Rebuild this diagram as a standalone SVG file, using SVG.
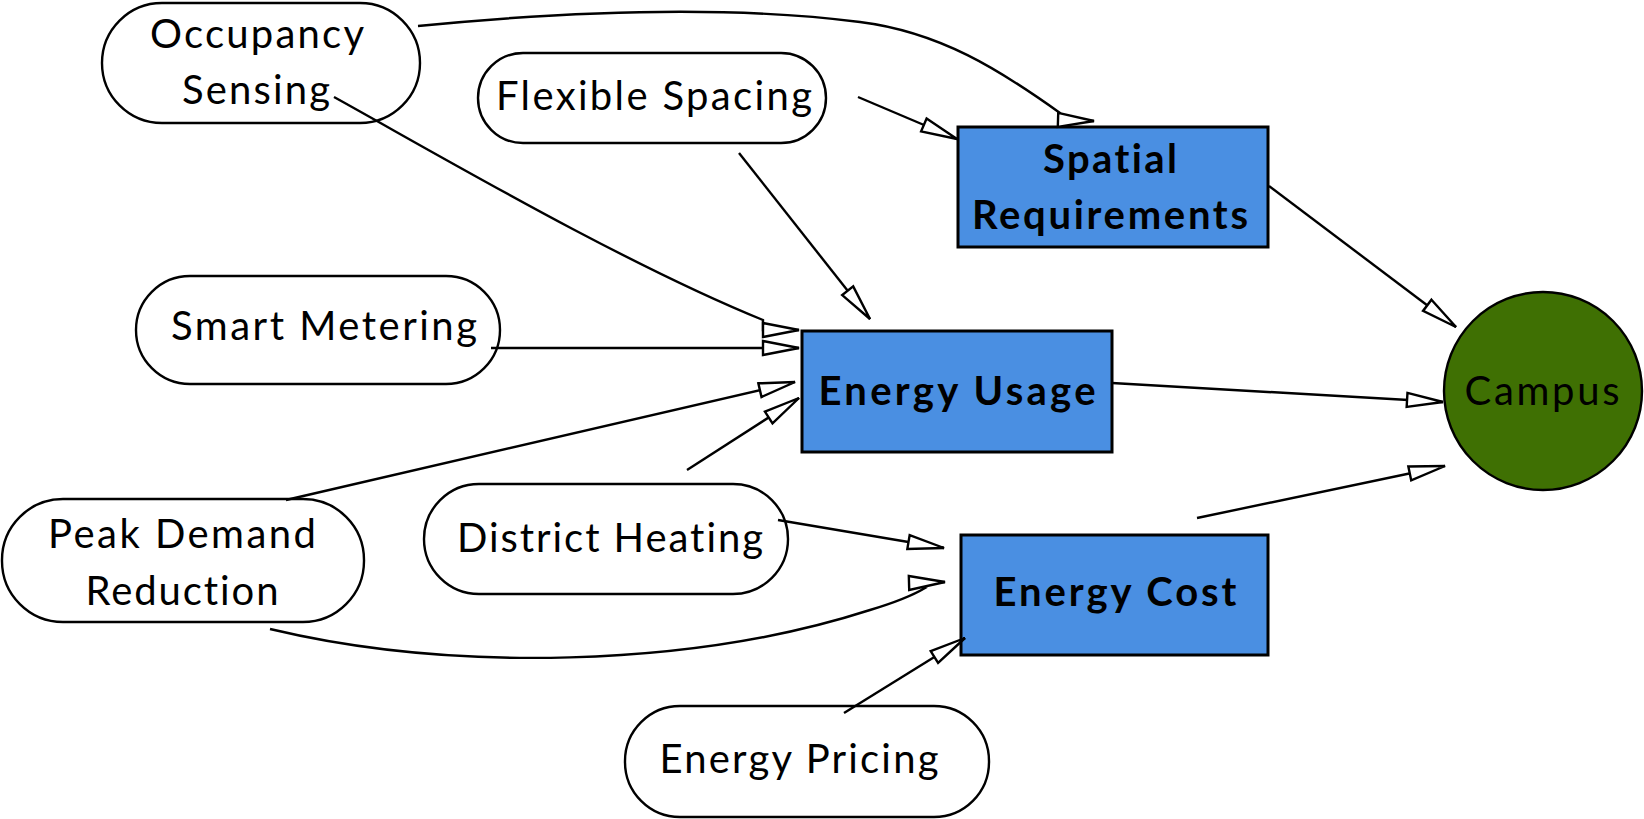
<svg xmlns="http://www.w3.org/2000/svg" width="1644" height="819" viewBox="0 0 1644 819">
<style>
.pill{fill:#fff;stroke:#000;stroke-width:2.4}
.box{fill:#4a8fe2;stroke:#000;stroke-width:3}
.circ{fill:#3f7003;stroke:#000;stroke-width:2.4}
.t{font-family:Lato,"Liberation Sans",sans-serif;font-size:40px;fill:#000;text-anchor:middle;font-variant-ligatures:none;font-feature-settings:"liga" 0}
.b{font-weight:bold}
.e{fill:none;stroke:#000;stroke-width:2.4;marker-end:url(#ah)}
</style>
<defs>
<marker id="ah" markerUnits="userSpaceOnUse" markerWidth="44" markerHeight="24" refX="38" refY="10" orient="auto" overflow="visible">
<path d="M2,3 L38,10 L2,17 z" fill="#fff" stroke="#000" stroke-width="2.4"/>
</marker>
</defs>
<rect width="1644" height="819" fill="#fff"/>
<g id="occupancy-sensing">
<rect class="pill" x="102" y="3" width="318" height="120" rx="60"/>
<text class="t" x="257" y="48" textLength="214" lengthAdjust="spacing">Occupancy</text>
<text class="t" x="256" y="104" textLength="148" lengthAdjust="spacing">Sensing</text>
</g>
<g id="flexible-spacing">
<rect class="pill" x="478" y="53" width="348" height="90" rx="45"/>
<text class="t" x="654" y="110" textLength="316" lengthAdjust="spacing">Flexible Spacing</text>
</g>
<g id="smart-metering">
<rect class="pill" x="136" y="276" width="364" height="108" rx="54"/>
<text class="t" x="324" y="340" textLength="306" lengthAdjust="spacing">Smart Metering</text>
</g>
<g id="peak-demand-reduction">
<rect class="pill" x="2" y="499" width="362" height="123" rx="61"/>
<text class="t" x="182" y="548" textLength="268" lengthAdjust="spacing">Peak Demand</text>
<text class="t" x="182" y="605" textLength="193" lengthAdjust="spacing">Reduction</text>
</g>
<g id="district-heating">
<rect class="pill" x="424" y="484" width="364" height="110" rx="55"/>
<text class="t" x="610" y="552" textLength="306" lengthAdjust="spacing">District Heating</text>
</g>
<g id="energy-pricing">
<rect class="pill" x="625" y="706" width="364" height="111" rx="55"/>
<text class="t" x="799" y="773" textLength="279" lengthAdjust="spacing">Energy Pricing</text>
</g>
<g id="spatial-requirements">
<rect class="box" x="958" y="127" width="310" height="120"/>
<text class="t b" x="1110" y="173" textLength="134" lengthAdjust="spacing">Spatial</text>
<text class="t b" x="1110" y="229" textLength="276" lengthAdjust="spacing">Requirements</text>
</g>
<g id="energy-usage">
<rect class="box" x="802" y="331" width="310" height="121"/>
<text class="t b" x="957" y="405" textLength="277" lengthAdjust="spacing">Energy Usage</text>
</g>
<g id="energy-cost">
<rect class="box" x="961" y="535" width="307" height="120"/>
<text class="t b" x="1115" y="606" textLength="243" lengthAdjust="spacing">Energy Cost</text>
</g>
<g id="campus">
<circle class="circ" cx="1543" cy="391" r="99"/>
<text class="t" x="1542" y="405" textLength="155" lengthAdjust="spacing">Campus</text>
</g>
<g id="connectors">
<path class="e" d="M418,26 C560,12 720,4 860,22 C940,32 1000,70 1060,113 L1060,120 L1094,121"/>
<path class="e" d="M334,97 C430,150 620,262 763,320 L763,330 L799,330"/>
<path class="e" d="M491,348 L799,348"/>
<path class="e" d="M739,153 L870,319"/>
<path class="e" d="M858,97 L957,139"/>
<path class="e" d="M286,500 L795,382"/>
<path class="e" d="M687,470 L799,398"/>
<path class="e" d="M778,520 L944,548"/>
<path class="e" d="M270,629 C450,672 690,668 870,610 C900,601 915,594 925,588 L909,583 L945,582"/>
<path class="e" d="M844,713 L965,638"/>
<path class="e" d="M1112,383 L1443,402"/>
<path class="e" d="M1269,186 L1456,327"/>
<path class="e" d="M1197,518 L1445,466"/>
</g>
</svg>
